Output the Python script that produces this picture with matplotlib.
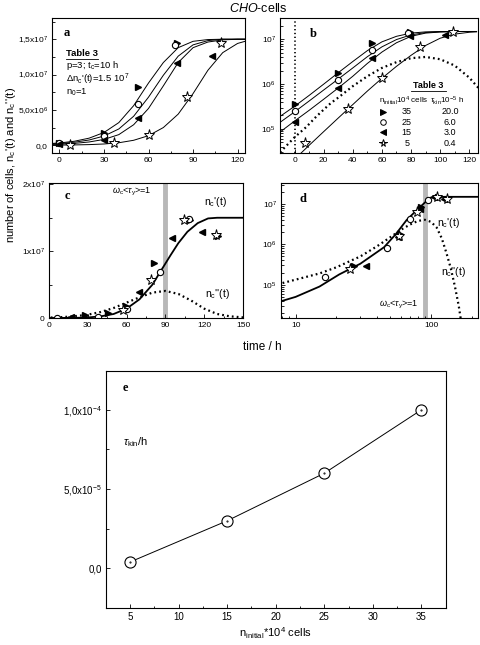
import matplotlib
matplotlib.use("Agg")
import matplotlib.pyplot as plt
from matplotlib.ticker import MultipleLocator, FixedLocator, FixedFormatter, NullFormatter, LogLocator

plt.rcParams['font.family'] = ['Liberation Sans', 'DejaVu Sans']
plt.rcParams['mathtext.fontset'] = 'custom'
plt.rcParams['mathtext.rm'] = 'Liberation Sans'
plt.rcParams['mathtext.it'] = 'Liberation Sans:italic'
plt.rcParams['mathtext.bf'] = 'Liberation Sans:bold'
plt.rcParams['font.size'] = 6

# --- measured cell numbers (panels a, b) ---
t35 = [0, 30, 53, 79]
n35 = [3.6e5, 1.8e6, 8.3e6, 1.45e7]
t25 = [0, 30, 53, 78]
n25 = [2.5e5, 1.25e6, 5.8e6, 1.42e7]
t15 = [0, 30, 53, 79, 103]
n15 = [1.45e5, 8.0e5, 3.9e6, 1.17e7, 1.26e7]
t05 = [7, 37, 60, 86, 109]
n05 = [4.9e4, 2.8e5, 1.4e6, 6.8e6, 1.45e7]

# fitted n_c'(t) curves, read at fixed times
t_fit = [-10, 0, 10, 20, 30, 40, 50, 60, 70, 80, 90, 100, 110, 120, 125]
fit35 = [1.9e5, 3.2e5, 5.6e5, 1.0e6, 1.8e6, 3.2e6, 5.6e6, 8.8e6, 1.17e7, 1.38e7, 1.47e7, 1.495e7, 1.5e7, 1.5e7, 1.5e7]
fit25 = [1.4e5, 2.4e5, 4.2e5, 7.4e5, 1.3e6, 2.3e6, 4.1e6, 6.8e6, 9.9e6, 1.26e7, 1.42e7, 1.48e7, 1.5e7, 1.5e7, 1.5e7]
fit15 = [8.5e4, 1.5e5, 2.6e5, 4.6e5, 8.2e5, 1.5e6, 2.9e6, 5.2e6, 8.4e6, 1.17e7, 1.38e7, 1.46e7, 1.49e7, 1.5e7, 1.5e7]
fit05 = [1.0e4, 2.1e4, 4.3e4, 8.7e4, 1.75e5, 3.5e5, 7.0e5, 1.35e6, 2.5e6, 4.4e6, 7.3e6, 1.06e7, 1.31e7, 1.44e7, 1.47e7]

# n_c''(t) curve (dotted)
t_dd = [-10, 0, 8, 15, 20, 25, 30, 40, 50, 60, 70, 80, 90, 100, 110, 120, 130, 140, 150, 160, 170]
n_dd = [3.0e4, 6.5e4, 1.1e5, 1.9e5, 2.7e5, 3.8e5, 5.0e5, 9.0e5, 1.5e6, 2.3e6, 3.1e6, 3.8e6, 4.05e6,
        3.6e6, 2.6e6, 1.4e6, 6.0e5, 2.5e5, 9.0e4, 3.0e4, 8.0e3]

# panel c: time-shifted data and n_c'(t)
c_t_open = [6.5, 37.7, 60.6, 86, 108]
c_n_open = [0, 1.0e5, 1.4e6, 6.9e6, 1.48e7]
c_t_right = [28, 46, 59.8, 81.4, 109, 131]
c_n_right = [5.0e5, 8.0e5, 1.8e6, 8.3e6, 1.47e7, 1.23e7]
c_t_left = [17, 69.6, 95, 118.5]
c_n_left = [1.0e5, 3.9e6, 1.2e7, 1.28e7]
c_t_star = [57.4, 78.7, 104, 129]
c_n_star = [1.26e6, 5.7e6, 1.46e7, 1.24e7]
c_t_fit = [0, 20, 30, 40, 50, 60, 70, 80, 86, 94, 100, 107, 115, 123, 130, 150]
c_n_fit = [0, 2e4, 8e4, 2.5e5, 6e5, 1.4e6, 2.8e6, 5.0e6, 6.9e6, 9.4e6, 1.12e7, 1.29e7, 1.42e7, 1.49e7, 1.5e7, 1.5e7]

# panel d: log-log view
d_t_open = [16.6, 47.3, 69.3, 95.6]
d_n_open = [1.55e5, 8.1e5, 4.3e6, 1.27e7]
d_t_star = [25.4, 57.6, 78.6, 110, 130]
d_n_star = [2.4e5, 1.6e6, 6.3e6, 1.47e7, 1.3e7]
d_t_right = [27, 58.5, 84, 112]
d_n_right = [2.9e5, 1.8e6, 8.4e6, 1.5e7]
d_t_left = [33, 57, 83, 105, 125]
d_n_left = [2.9e5, 1.5e6, 7.5e6, 1.45e7, 1.3e7]
d_t_fit = [7.8, 10, 15, 21, 30, 45, 55, 66, 80, 93, 100, 105, 220]
d_n_fit = [3.9e4, 5e4, 9e4, 1.8e5, 3.3e5, 8.5e5, 1.8e6, 4.0e6, 7.5e6, 1.2e7, 1.45e7, 1.5e7, 1.5e7]

# panel e
n_initial = [5, 15, 25, 35]
tau_kin = [0.4e-5, 3.0e-5, 6.0e-5, 10.0e-5]

W, H = 480, 645
fig = plt.figure(figsize=(W / 100, H / 100), dpi=100)


def box(l, t, r, b):
    return [l / W, 1 - b / H, (r - l) / W, (b - t) / H]


def style(ax):
    ax.tick_params(which='both', direction='in', top=False, right=False, labelsize=6, pad=3)
    ax.tick_params(which='major', length=3, width=0.6)
    ax.tick_params(which='minor', length=1.8, width=0.6)
    for s in ax.spines.values():
        s.set_linewidth(0.8)


def markers(ax, tr, nr, to, no, tl, nl, ts, ns, ms=5):
    ax.plot(tr, nr, '>', color='k', ms=ms, ls='none')
    ax.plot(to, no, 'o', mfc='white', mec='k', mew=0.8, ms=ms - 0.5, ls='none')
    ax.plot(tl, nl, '<', color='k', ms=ms, ls='none')
    ax.plot(ts, ns, '*', mfc='white', mec='k', mew=0.7, ms=ms + 3, ls='none')


letter = dict(fontfamily='Liberation Serif', fontweight='bold', fontsize=9)

# ---- a ----
ax = fig.add_axes(box(52, 18, 245, 153))
for f in (fit35, fit25, fit15, fit05):
    ax.plot(t_fit, f, color='k', lw=0.7)
markers(ax, t35, n35, t25, n25, t15, n15, t05, n05)
ax.set_xlim(-5, 125)
ax.set_ylim(-1.1e6, 1.8e7)
ax.xaxis.set_major_locator(MultipleLocator(30))
ax.xaxis.set_minor_locator(MultipleLocator(15))
ax.yaxis.set_major_locator(FixedLocator([0, 5e6, 1e7, 1.5e7]))
ax.yaxis.set_major_formatter(FixedFormatter(['0,0', r'5,0x10$^6$', r'1,0x10$^7$', r'1,5x10$^7$']))
ax.yaxis.set_minor_locator(MultipleLocator(2.5e6))
style(ax)
ax.text(0.06, 0.87, 'a', transform=ax.transAxes, **letter)
ax.text(0.075, 0.735, 'Table 3', transform=ax.transAxes, fontsize=6.8, fontweight='bold', va='center')
ax.plot([0.075, 0.24], [0.70, 0.70], transform=ax.transAxes, color='k', lw=0.6)
ax.text(0.075, 0.645, r'p=3; t$_\mathrm{c}$=10 h', transform=ax.transAxes, fontsize=6.8, va='center')
ax.text(0.075, 0.548, r"$\Delta$n$_\mathrm{c}$'(t)=1.5 10$^7$", transform=ax.transAxes, fontsize=6.8, va='center')
ax.text(0.075, 0.452, r'n$_\mathrm{0}$=1', transform=ax.transAxes, fontsize=6.8, va='center')

# ---- b ----
ax = fig.add_axes(box(280, 18, 478, 153))
for f in (fit35, fit25, fit15, fit05):
    ax.plot(t_fit, f, color='k', lw=0.7)
ax.plot(t_dd, n_dd, color='k', lw=1.6, ls=(0, (0.8, 1.4)))
ax.axvline(0, color='k', lw=1.2, ls=(0, (0.8, 1.5)))
markers(ax, t35, n35, t25, n25, t15, n15, t05, n05)
ax.set_yscale('log')
ax.set_xlim(-10, 126)
ax.set_ylim(2.9e4, 3.0e7)
ax.xaxis.set_major_locator(MultipleLocator(20))
ax.xaxis.set_minor_locator(MultipleLocator(10))
ax.yaxis.set_major_locator(FixedLocator([1e5, 1e6, 1e7]))
ax.yaxis.set_major_formatter(FixedFormatter([r'10$^5$', r'10$^6$', r'10$^7$']))
ax.yaxis.set_minor_locator(LogLocator(subs=range(2, 10)))
ax.yaxis.set_minor_formatter(NullFormatter())
style(ax)
ax.text(0.15, 0.86, 'b', transform=ax.transAxes, **letter)
ax.text(0.75, 0.50, 'Table 3', transform=ax.transAxes, fontsize=6.5, fontweight='bold', ha='center', va='center')
ax.plot([0.66, 0.84], [0.462, 0.462], transform=ax.transAxes, color='k', lw=0.6)
ax.text(0.50, 0.387, r'n$_\mathrm{initial}$10$^4$ cells', transform=ax.transAxes, fontsize=5.8, va='center')
ax.text(0.76, 0.387, r'$\tau_\mathrm{kin}$10$^{-5}$ h', transform=ax.transAxes, fontsize=5.8, va='center')
rows_y = [0.306, 0.227, 0.153, 0.074]
for y, mk, a, b in zip(rows_y, ['>', 'o', '<', '*'], ['35', '25', '15', '5'], ['20.0', '6.0', '3.0', '0.4']):
    face = 'k' if mk in '<>' else 'white'
    ax.plot([0.52], [y], mk, transform=ax.transAxes, mfc=face, mec='k', mew=0.7, ms=4 if mk != '*' else 5.5)
    ax.text(0.64, y, a, transform=ax.transAxes, fontsize=6.5, ha='center', va='center')
    ax.text(0.86, y, b, transform=ax.transAxes, fontsize=6.5, ha='center', va='center')

# ---- c ----
ax = fig.add_axes(box(49, 183, 243, 318))
ax.axvline(90, color='#b8b8b8', lw=3.5, zorder=0)
ax.plot(c_t_fit, c_n_fit, color='k', lw=1.3)
ax.plot(t_dd, n_dd, color='k', lw=1.6, ls=(0, (0.8, 1.4)))
markers(ax, c_t_right, c_n_right, c_t_open, c_n_open, c_t_left, c_n_left, c_t_star, c_n_star)
ax.set_xlim(0, 150)
ax.set_ylim(0, 2.02e7)
ax.xaxis.set_major_locator(MultipleLocator(30))
ax.xaxis.set_minor_locator(MultipleLocator(15))
ax.yaxis.set_major_locator(FixedLocator([0, 1e7, 2e7]))
ax.yaxis.set_major_formatter(FixedFormatter(['0', r'1x10$^7$', r'2x10$^7$']))
ax.yaxis.set_minor_locator(MultipleLocator(5e6))
style(ax)
ax.text(0.08, 0.88, 'c', transform=ax.transAxes, **letter)
ax.text(0.53, 0.93, r'$\omega_\mathrm{c}$<$\tau_\mathrm{y}$>=1', transform=ax.transAxes, fontsize=6.5, ha='right', va='center')
ax.text(0.86, 0.86, r"n$_\mathrm{c}$'(t)", transform=ax.transAxes, fontsize=7.5, ha='center', va='center')
ax.text(0.87, 0.18, r"n$_\mathrm{c}$''(t)", transform=ax.transAxes, fontsize=7.5, ha='center', va='center')

# ---- d ----
ax = fig.add_axes(box(281, 183, 478, 318))
ax.axvline(90, color='#b8b8b8', lw=3.5, zorder=0)
ax.plot(d_t_fit, d_n_fit, color='k', lw=1.3)
ax.plot(t_dd, n_dd, color='k', lw=1.6, ls=(0, (0.8, 1.4)))
markers(ax, d_t_right, d_n_right, d_t_open, d_n_open, d_t_left, d_n_left, d_t_star, d_n_star)
ax.set_xscale('log')
ax.set_yscale('log')
ax.set_xlim(7.8, 222)
ax.set_ylim(1.5e4, 3.3e7)
ax.xaxis.set_major_locator(FixedLocator([10, 100]))
ax.xaxis.set_major_formatter(FixedFormatter(['10', '100']))
ax.xaxis.set_minor_locator(LogLocator(subs=range(2, 10)))
ax.xaxis.set_minor_formatter(NullFormatter())
ax.yaxis.set_major_locator(FixedLocator([1e5, 1e6, 1e7]))
ax.yaxis.set_major_formatter(FixedFormatter([r'10$^5$', r'10$^6$', r'10$^7$']))
ax.yaxis.set_minor_locator(LogLocator(subs=range(2, 10)))
ax.yaxis.set_minor_formatter(NullFormatter())
style(ax)
ax.text(0.095, 0.86, 'd', transform=ax.transAxes, **letter)
ax.text(0.70, 0.10, r'$\omega_\mathrm{c}$<$\tau_\mathrm{y}$>=1', transform=ax.transAxes, fontsize=6.5, ha='right', va='center')
ax.text(0.85, 0.70, r"n$_\mathrm{c}$'(t)", transform=ax.transAxes, fontsize=7.5, ha='center', va='center')
ax.text(0.875, 0.34, r"n$_\mathrm{c}$''(t)", transform=ax.transAxes, fontsize=7.5, ha='center', va='center')

# ---- e ----
ax = fig.add_axes(box(105.7, 371, 445.7, 608))
ax.plot(n_initial, tau_kin, color='k', lw=0.7, marker='o', ms=8, mfc='white', mec='k', mew=0.8)
ax.plot(n_initial, tau_kin, '.', color='k', ms=1)
ax.set_xlim(2.5, 37.5)
ax.set_ylim(-2.5e-5, 1.245e-4)
ax.xaxis.set_major_locator(MultipleLocator(5))
ax.xaxis.set_minor_locator(MultipleLocator(2.5))
ax.yaxis.set_major_locator(FixedLocator([0, 5e-5, 1e-4]))
ax.yaxis.set_major_formatter(FixedFormatter(['0,0', r'5,0x10$^{-5}$', r'1,0x10$^{-4}$']))
ax.yaxis.set_minor_locator(MultipleLocator(2.5e-5))
style(ax)
ax.tick_params(labelsize=7)
ax.text(0.051, 0.915, 'e', transform=ax.transAxes, **letter)
ax.text(0.05, 0.70, r'$\tau_\mathrm{kin}$/h', transform=ax.transAxes, fontsize=8, va='center')
ax.set_xlabel(r'n$_\mathrm{initial}$*10$^4$ cells', fontsize=8, labelpad=2)

fig.text(258 / W, 1 - 9 / H, r'$\mathit{CHO}$-cells', fontsize=9, ha='center', va='center')
fig.text(262 / W, 1 - 347 / H, 'time / h', fontsize=8.5, ha='center', va='center')
fig.text(11 / W, 1 - 165 / H, r"number of cells, n$_\mathrm{c}$'(t) and n$_\mathrm{c}$''(t)",
         fontsize=8, rotation=90, ha='center', va='center')

fig.savefig('out.png', dpi=100)
